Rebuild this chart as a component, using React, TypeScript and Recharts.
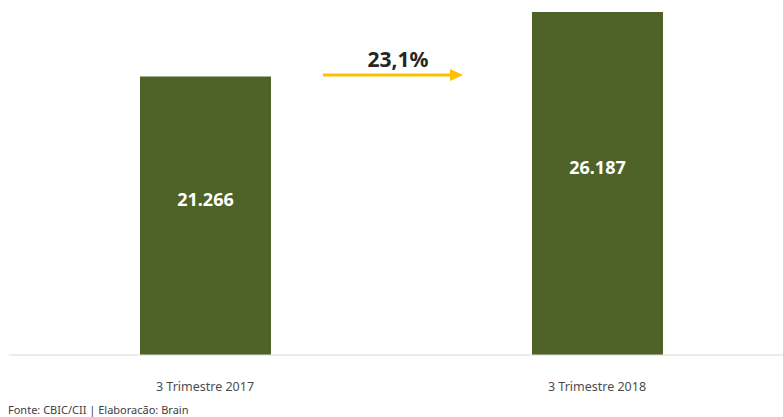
import { Bar, BarChart, LabelList, XAxis, YAxis } from "recharts";

const categories = ["3 Trimestre 2017", "3 Trimestre 2018"];
const values = [21266, 26187];
const valueLabels = ["21.266", "26.187"];
const growthLabel = "23,1%";
const footnote = "Fonte: CBIC/CII | Elaboracão: Brain";

const data = categories.map((name, i) => ({
  name,
  value: values[i],
  label: valueLabels[i],
}));

const BarLabel = (props: any) => {
  const { x, y, width, height, index } = props;
  return (
    <text
      x={x + width / 2}
      y={y + height / 2 - 17}
      textAnchor="middle"
      dominantBaseline="central"
      fill="#ffffff"
      fontFamily="'Noto Sans', sans-serif"
      fontWeight={700}
      fontSize={18}
    >
      {valueLabels[index]}
    </text>
  );
};

const Tick = ({ x, y, payload }: any) => (
  <text
    x={x}
    y={y + 23}
    textAnchor="middle"
    dominantBaseline="central"
    fill="#4d4d4d"
    fontFamily="'Noto Sans', sans-serif"
    fontSize={12.5}
  >
    {payload.value}
  </text>
);

export default function App() {
  return (
    <div
      style={{
        position: "absolute",
        left: 0,
        top: 0,
        width: 783,
        height: 417,
        overflow: "hidden",
        background: "#fff",
      }}
    >
      <BarChart
        width={800}
        height={417}
        data={data}
        margin={{ top: 12, right: 7, left: 9, bottom: 0 }}
      >
        <XAxis
          dataKey="name"
          height={62}
          tickLine={false}
          axisLine={{ stroke: "#d9d9d9" }}
          tick={<Tick />}
          interval={0}
        />
        <YAxis hide domain={[0, 26187]} />
        <Bar dataKey="value" fill="#4F6228" barSize={131} isAnimationActive={false}>
          <LabelList dataKey="label" content={<BarLabel />} />
        </Bar>
      </BarChart>
      <svg
        width={783}
        height={417}
        style={{ position: "absolute", left: 0, top: 0, pointerEvents: "none" }}
      >
        <text
          x={398}
          y={59}
          textAnchor="middle"
          dominantBaseline="central"
          fill="#262626"
          fontFamily="'Noto Sans', sans-serif"
          fontWeight={700}
          fontSize={21}
        >
          {growthLabel}
        </text>
        <line x1={323} y1={75} x2={452} y2={75} stroke="#FFC000" strokeWidth={3} />
        <polygon points="450,69 463,75 450,81" fill="#FFC000" />
        <text
          x={8}
          y={409}
          dominantBaseline="central"
          fill="#404040"
          fontFamily="'Noto Sans', sans-serif"
          fontSize={11}
        >
          {footnote}
        </text>
      </svg>
    </div>
  );
}
